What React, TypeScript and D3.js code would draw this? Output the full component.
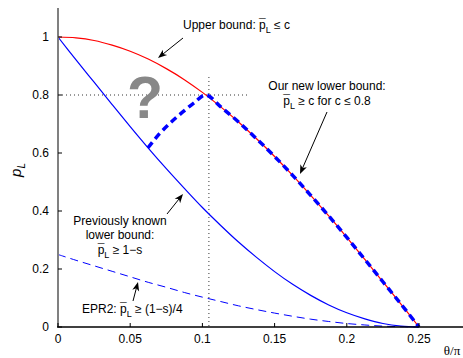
import React from "react";
import * as d3 from "d3";

// theta/pi sample positions
const theta = [
  0, 0.0125, 0.025, 0.0375, 0.05, 0.0625, 0.075, 0.0875, 0.1, 0.1125, 0.125,
  0.1375, 0.15, 0.1625, 0.175, 0.1875, 0.2, 0.2125, 0.225, 0.2375, 0.25
];
// red: upper bound p <= c
const upperBound = [
  1, 0.997, 0.988, 0.972, 0.951, 0.924, 0.891, 0.853, 0.809, 0.76, 0.707,
  0.649, 0.588, 0.523, 0.454, 0.383, 0.309, 0.233, 0.156, 0.079, 0
];
// blue solid: previously known lower bound 1-s
const prevLower = [
  1, 0.921, 0.844, 0.767, 0.691, 0.617, 0.546, 0.478, 0.412, 0.351, 0.293,
  0.24, 0.191, 0.147, 0.109, 0.076, 0.049, 0.028, 0.012, 0.003, 0
];
// blue dashed: EPR2 (1-s)/4
const epr2 = [
  0.25, 0.23, 0.211, 0.192, 0.173, 0.154, 0.137, 0.119, 0.103, 0.088, 0.073,
  0.06, 0.048, 0.037, 0.027, 0.019, 0.012, 0.007, 0.003, 0.001, 0
];
// thick dashed: new lower bound
const newTheta = [
  0.0623, 0.07, 0.078, 0.086, 0.094, 0.1024, 0.1125, 0.125, 0.1375, 0.15,
  0.1625, 0.175, 0.1875, 0.2, 0.2125, 0.225, 0.2375, 0.25
];
const newLower = [
  0.618, 0.665, 0.705, 0.74, 0.772, 0.8, 0.76, 0.707, 0.649, 0.588, 0.523,
  0.454, 0.383, 0.309, 0.233, 0.156, 0.079, 0
];

const xTicks = [0, 0.05, 0.1, 0.15, 0.2, 0.25];
const yTicks = [0, 0.2, 0.4, 0.6, 0.8, 1];
const markC = 0.8; // dotted guide level
const markTheta = 0.1045;

const W = 463;
const H = 358;
const FONT = "'Liberation Sans', Arial, sans-serif";

function Arrow({ x1, y1, x2, y2 }: { x1: number; y1: number; x2: number; y2: number }) {
  const a = Math.atan2(y2 - y1, x2 - x1);
  const L = 9, w = 3.5, n = 6.5;
  const ux = Math.cos(a), uy = Math.sin(a);
  const px = -uy, py = ux;
  const bx = x2 - ux * L, by = y2 - uy * L;
  const pts = [
    [x2, y2],
    [bx + px * w, by + py * w],
    [x2 - ux * n, y2 - uy * n],
    [bx - px * w, by - py * w]
  ];
  return (
    <g>
      <line x1={x1} y1={y1} x2={x2 - ux * 5} y2={y2 - uy * 5} stroke="#000" strokeWidth={1} />
      <polygon points={pts.map(p => p.join(",")).join(" ")} fill="#000" />
    </g>
  );
}

// p with a bar on top and subscript L; the macron is laid over the p
function PBar() {
  return (
    <>
      <tspan>p</tspan>
      <tspan dx={-6.7} dy={-1}>¯</tspan>
      <tspan dy={5} fontSize={9}>L</tspan>
      <tspan dy={-4}> </tspan>
    </>
  );
}

export default function App() {
  const x = d3.scaleLinear().domain([0, 0.25]).range([58, 419]);
  const y = d3.scaleLinear().domain([0, 1]).range([327, 37]);

  const line = d3
    .line<[number, number]>()
    .x(d => x(d[0]))
    .y(d => y(d[1]))
    .curve(d3.curveCatmullRom.alpha(0.5));

  const zip = (a: number[], b: number[]) => a.map((t, i) => [t, b[i]] as [number, number]);

  return (
    <svg
      width={W}
      height={H}
      style={{ position: "absolute", left: 0, top: 0, background: "#fff" }}
      fontFamily={FONT}
    >
      {/* dotted guides */}
      <line x1={x(0)} x2={x(0.131)} y1={y(markC)} y2={y(markC)} stroke="#333" strokeWidth={1} strokeDasharray="1,3" />
      <line x1={x(markTheta)} x2={x(markTheta)} y1={y(0.862)} y2={y(0)} stroke="#333" strokeWidth={1} strokeDasharray="1,3" />

      {/* question mark */}
      <text x={145} y={118} textAnchor="middle" fontSize={59} fontWeight="bold" fill="#888">?</text>

      {/* curves */}
      <path d={line(zip(theta, epr2)) || ""} fill="none" stroke="#0000ff" strokeWidth={1} strokeDasharray="8,5" />
      <path d={line(zip(theta, prevLower)) || ""} fill="none" stroke="#0000ff" strokeWidth={1.2} />
      <path d={line(zip(theta, upperBound)) || ""} fill="none" stroke="#ff0000" strokeWidth={1.2} />
      <path d={line(zip(newTheta, newLower)) || ""} fill="none" stroke="#0000ff" strokeWidth={3.5} strokeDasharray="7,4.5" />

      {/* axes */}
      <line x1={58} x2={58} y1={8} y2={327} stroke="#808080" strokeWidth={2} />
      <line x1={57} x2={W} y1={327} y2={327} stroke="#000" strokeWidth={1.5} />
      {xTicks.map(t => (
        <g key={"x" + t}>
          <line x1={x(t)} x2={x(t)} y1={327} y2={323} stroke="#000" strokeWidth={1} />
          <text x={x(t)} y={343} textAnchor="middle" fontSize={12} fill="#000">{t}</text>
        </g>
      ))}
      {yTicks.map(t => (
        <g key={"y" + t}>
          <line x1={58} x2={62} y1={y(t)} y2={y(t)} stroke="#000" strokeWidth={1} />
          <text x={49} y={y(t) + 4} textAnchor="end" fontSize={12} fill="#000">{t}</text>
        </g>
      ))}
      <text x={452} y={355} textAnchor="middle" fontSize={13} fontFamily="'Liberation Serif', 'Times New Roman', serif">θ/π</text>
      <text transform="translate(21,170) rotate(-90)" textAnchor="middle" fontSize={15} fontStyle="italic">
        p<tspan dy={4} fontSize={10}>L</tspan>
      </text>

      {/* annotations */}
      <g fontSize={12} fill="#000">
        <text x={183} y={29}>Upper bound: <PBar />≤ c</text>
        <Arrow x1={183} y1={38} x2={158} y2={58} />

        <text x={327} y={90} textAnchor="middle">Our new lower bound:</text>
        <text x={327} y={105} textAnchor="middle"><PBar />≥ c for c ≤ 0.8</text>
        <Arrow x1={327} y1={112} x2={300} y2={174} />

        <text x={120} y={225} textAnchor="middle">Previously known</text>
        <text x={120} y={239} textAnchor="middle">lower bound:</text>
        <text x={120} y={254} textAnchor="middle"><PBar />≥ 1−s</text>
        <Arrow x1={167} y1={214} x2={183} y2={194} />

        <text x={82} y={313}>EPR2: <PBar />≥ (1−s)/4</text>
        <Arrow x1={133} y1={301} x2={138} y2={282} />
      </g>
    </svg>
  );
}
